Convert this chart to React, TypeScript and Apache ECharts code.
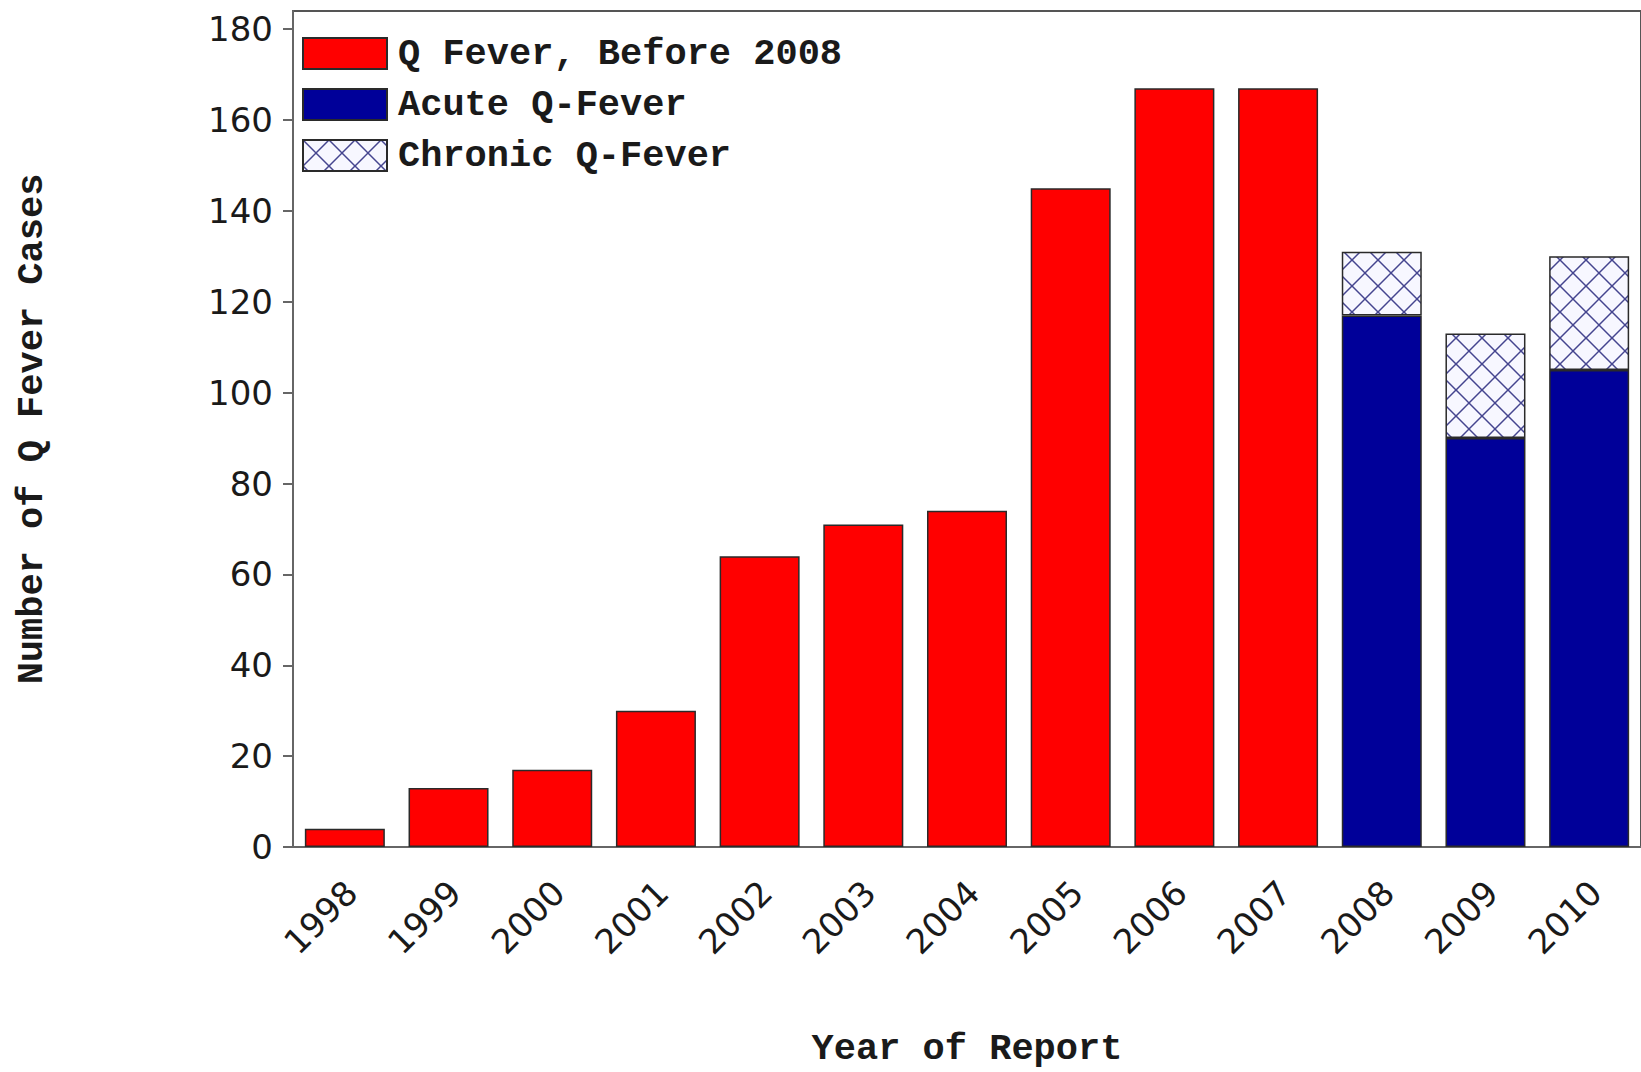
import React, { useEffect, useRef } from "react";
import * as echarts from "echarts";

const years = ["1998", "1999", "2000", "2001", "2002", "2003", "2004", "2005", "2006", "2007", "2008", "2009", "2010"];
const beforeValues = [4, 13, 17, 30, 64, 71, 74, 145, 167, 167, null, null, null];
const acuteValues = [null, null, null, null, null, null, null, null, null, null, 117, 90, 105];
const chronicValues = [null, null, null, null, null, null, null, null, null, null, 14, 23, 25];
const yTickValues = [0, 20, 40, 60, 80, 100, 120, 140, 160, 180];

const seriesNames = ["Q Fever, Before 2008", "Acute Q-Fever", "Chronic Q-Fever"];

function makeHatch(): HTMLCanvasElement {
  const s = 26;
  const c = document.createElement("canvas");
  c.width = s;
  c.height = s;
  const ctx = c.getContext("2d")!;
  ctx.fillStyle = "#f7f7ff";
  ctx.fillRect(0, 0, s, s);
  ctx.strokeStyle = "#45458f";
  ctx.lineWidth = 1.5;
  for (const o of [-s, 0, s]) {
    ctx.beginPath();
    ctx.moveTo(o, 0);
    ctx.lineTo(o + s, s);
    ctx.stroke();
    ctx.beginPath();
    ctx.moveTo(o + s, 0);
    ctx.lineTo(o, s);
    ctx.stroke();
  }
  return c;
}

export default function App() {
  const ref = useRef<HTMLDivElement>(null);
  useEffect(() => {
    if (!ref.current) return;
    const chart = echarts.init(ref.current, null, { renderer: "svg" });
    const hatch = makeHatch();
    const border = { borderColor: "#2a2a2a", borderWidth: 1.5 };
    const monoFont = "'Liberation Mono', 'DejaVu Sans Mono', monospace";
    const sansFont = "'DejaVu Sans', sans-serif";
    chart.setOption({
      animation: false,
      backgroundColor: "#ffffff",
      grid: {
        left: 293,
        right: -4,
        top: 11,
        bottom: 221,
        show: true,
        borderColor: "#555555",
        borderWidth: 2,
        backgroundColor: "transparent",
      },
      legend: {
        orient: "vertical",
        left: 302,
        top: 35,
        padding: 0,
        itemWidth: 84,
        itemHeight: 31,
        itemGap: 14,
        icon: "rect",
        data: seriesNames,
        textStyle: {
          fontFamily: monoFont,
          fontWeight: "bold",
          fontSize: 37,
          lineHeight: 31,
          color: "#1a1a1a",
          padding: [0, 0, 0, 6],
        },
      },
      xAxis: {
        type: "category",
        data: years,
        name: "Year of Report",
        nameLocation: "middle",
        nameGap: 183,
        nameTextStyle: {
          fontFamily: monoFont,
          fontWeight: "bold",
          fontSize: 37,
          color: "#1a1a1a",
        },
        axisLine: { lineStyle: { color: "#666666", width: 2 } },
        axisTick: { show: false },
        axisLabel: {
          rotate: 45,
          margin: 46,
          padding: [0, -9, 0, 0],
          fontFamily: sansFont,
          fontSize: 34,
          color: "#1a1a1a",
        },
      },
      yAxis: {
        type: "value",
        min: 0,
        max: 184,
        interval: 20,
        name: "Number of Q Fever Cases",
        nameLocation: "middle",
        nameGap: 243,
        nameTextStyle: {
          fontFamily: monoFont,
          fontWeight: "bold",
          fontSize: 37,
          color: "#1a1a1a",
        },
        splitLine: { show: false },
        axisLine: { show: true, lineStyle: { color: "#666666", width: 2 } },
        axisTick: { show: true, length: 10, customValues: yTickValues, lineStyle: { color: "#666666", width: 2 } },
        axisLabel: {
          margin: 20,
          customValues: yTickValues,
          fontFamily: sansFont,
          fontSize: 34,
          color: "#1a1a1a",
        },
      },
      series: [
        {
          name: seriesNames[0],
          type: "bar",
          stack: "total",
          barWidth: 80,
          data: beforeValues,
          itemStyle: { color: "#ff0000", ...border },
        },
        {
          name: seriesNames[1],
          type: "bar",
          stack: "total",
          barWidth: 80,
          data: acuteValues,
          itemStyle: { color: "#000099", ...border },
        },
        {
          name: seriesNames[2],
          type: "bar",
          stack: "total",
          barWidth: 80,
          data: chronicValues,
          itemStyle: { color: { image: hatch, repeat: "repeat" }, ...border },
        },
      ],
    });
    return () => chart.dispose();
  }, []);
  return (
    <div
      ref={ref}
      style={{ position: "fixed", left: 0, top: 0, width: 1641, height: 1072 }}
    />
  );
}
